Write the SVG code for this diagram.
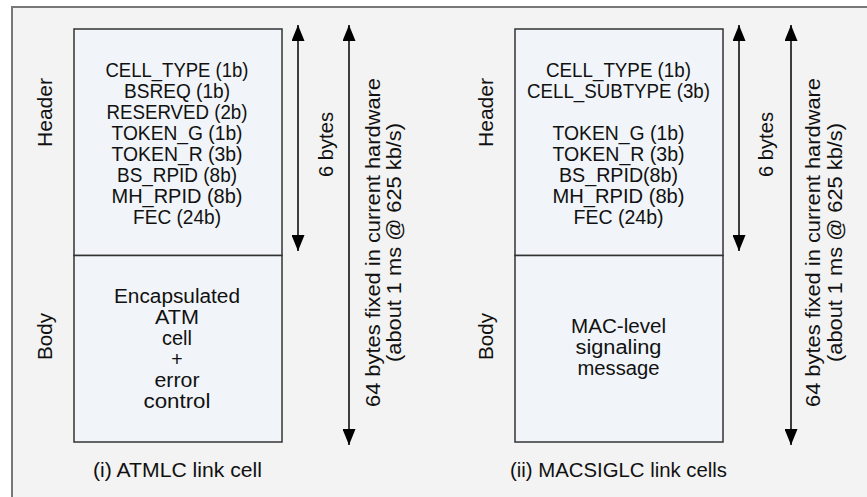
<svg xmlns="http://www.w3.org/2000/svg" width="867" height="497" viewBox="0 0 867 497">
  <style>
    .frame { fill: #f3f3f3; stroke: #777777; stroke-width: 2; }
    .cell { fill: #f1f5f9; stroke: #333333; stroke-width: 1.5; }
    .t { font-family: "Liberation Sans", Arial, sans-serif; font-size: 19.5px; fill: #111111; text-anchor: middle; }
    .dim { stroke: #000000; stroke-width: 1.5; fill: none; }
  </style>
  <defs>
    <marker id="ah" viewBox="0 0 16 13" refX="16" refY="6.5" markerWidth="16" markerHeight="13" markerUnits="userSpaceOnUse" orient="auto-start-reverse">
      <path d="M0,0 L16,6.5 L0,13 Z" fill="#000000"/>
    </marker>
  </defs>

  <!-- page frame, open to the right and bottom -->
  <rect class="frame" x="12" y="7" width="870" height="500"/>

  <!-- (i) ATMLC link cell -->
  <g id="atmlc-header">
    <rect class="cell" x="74" y="29" width="208" height="226.5"/>
    <text class="t" x="177" y="77" textLength="143" lengthAdjust="spacingAndGlyphs">CELL_TYPE (1b)</text>
    <text class="t" x="177" y="98" textLength="106" lengthAdjust="spacingAndGlyphs">BSREQ (1b)</text>
    <text class="t" x="177" y="119" textLength="141" lengthAdjust="spacingAndGlyphs">RESERVED (2b)</text>
    <text class="t" x="177" y="140" textLength="131" lengthAdjust="spacingAndGlyphs">TOKEN_G (1b)</text>
    <text class="t" x="177" y="161" textLength="131" lengthAdjust="spacingAndGlyphs">TOKEN_R (3b)</text>
    <text class="t" x="177" y="182" textLength="120" lengthAdjust="spacingAndGlyphs">BS_RPID (8b)</text>
    <text class="t" x="177" y="203" textLength="131" lengthAdjust="spacingAndGlyphs">MH_RPID (8b)</text>
    <text class="t" x="177" y="224" textLength="88" lengthAdjust="spacingAndGlyphs">FEC (24b)</text>
  </g>
  <g id="atmlc-body">
    <rect class="cell" x="74" y="255.5" width="208" height="186.5"/>
    <text class="t" x="177" y="303" textLength="126" lengthAdjust="spacingAndGlyphs">Encapsulated</text>
    <text class="t" x="177" y="324" textLength="44" lengthAdjust="spacingAndGlyphs">ATM</text>
    <text class="t" x="177" y="345" textLength="30" lengthAdjust="spacingAndGlyphs">cell</text>
    <text class="t" x="177" y="366">+</text>
    <text class="t" x="177" y="387" textLength="45" lengthAdjust="spacingAndGlyphs">error</text>
    <text class="t" x="177" y="408" textLength="67" lengthAdjust="spacingAndGlyphs">control</text>
  </g>
  <g id="atmlc-labels">
    <text class="t" transform="translate(52,112.5) rotate(-90)" textLength="69" lengthAdjust="spacingAndGlyphs">Header</text>
    <text class="t" transform="translate(52,336.5) rotate(-90)" textLength="47" lengthAdjust="spacingAndGlyphs">Body</text>
    <text class="t" transform="translate(333,144.5) rotate(-90)" textLength="65" lengthAdjust="spacingAndGlyphs">6 bytes</text>
    <text class="t" transform="translate(380,242.5) rotate(-90)" textLength="329" lengthAdjust="spacingAndGlyphs">64 bytes fixed in current hardware</text>
    <text class="t" transform="translate(401,242.5) rotate(-90)" textLength="239" lengthAdjust="spacingAndGlyphs">(about 1 ms @ 625 kb/s)</text>
    <text class="t" x="177.5" y="477" textLength="169" lengthAdjust="spacingAndGlyphs">(i) ATMLC link cell</text>
  </g>

  <!-- (ii) MACSIGLC link cells -->
  <g id="macsiglc-header">
    <rect class="cell" x="515" y="29" width="208" height="226.5"/>
    <text class="t" x="618.5" y="77" textLength="145" lengthAdjust="spacingAndGlyphs">CELL_TYPE (1b)</text>
    <text class="t" x="618.5" y="98" textLength="183" lengthAdjust="spacingAndGlyphs">CELL_SUBTYPE (3b)</text>
    <text class="t" x="618.5" y="140" textLength="132" lengthAdjust="spacingAndGlyphs">TOKEN_G (1b)</text>
    <text class="t" x="618.5" y="161" textLength="132" lengthAdjust="spacingAndGlyphs">TOKEN_R (3b)</text>
    <text class="t" x="618.5" y="182" textLength="119" lengthAdjust="spacingAndGlyphs">BS_RPID(8b)</text>
    <text class="t" x="618.5" y="203" textLength="132" lengthAdjust="spacingAndGlyphs">MH_RPID (8b)</text>
    <text class="t" x="618.5" y="224" textLength="90" lengthAdjust="spacingAndGlyphs">FEC (24b)</text>
  </g>
  <g id="macsiglc-body">
    <rect class="cell" x="515" y="255.5" width="208" height="186.5"/>
    <text class="t" x="618.5" y="333" textLength="95" lengthAdjust="spacingAndGlyphs">MAC-level</text>
    <text class="t" x="618.5" y="354" textLength="86" lengthAdjust="spacingAndGlyphs">signaling</text>
    <text class="t" x="618.5" y="375" textLength="82" lengthAdjust="spacingAndGlyphs">message</text>
  </g>
  <g id="macsiglc-labels">
    <text class="t" transform="translate(493,112.5) rotate(-90)" textLength="69" lengthAdjust="spacingAndGlyphs">Header</text>
    <text class="t" transform="translate(493,336.5) rotate(-90)" textLength="47" lengthAdjust="spacingAndGlyphs">Body</text>
    <text class="t" transform="translate(773,144.5) rotate(-90)" textLength="65" lengthAdjust="spacingAndGlyphs">6 bytes</text>
    <text class="t" transform="translate(820,242.5) rotate(-90)" textLength="329" lengthAdjust="spacingAndGlyphs">64 bytes fixed in current hardware</text>
    <text class="t" transform="translate(842,242.5) rotate(-90)" textLength="239" lengthAdjust="spacingAndGlyphs">(about 1 ms @ 625 kb/s)</text>
    <text class="t" x="618.5" y="477" textLength="217" lengthAdjust="spacingAndGlyphs">(ii) MACSIGLC link cells</text>
  </g>

  <!-- size arrows -->
  <g id="connectors">
    <line class="dim" x1="298" y1="25" x2="298" y2="251" marker-start="url(#ah)" marker-end="url(#ah)"/>
    <line class="dim" x1="349" y1="25" x2="349" y2="445" marker-start="url(#ah)" marker-end="url(#ah)"/>
    <line class="dim" x1="739" y1="25" x2="739" y2="251" marker-start="url(#ah)" marker-end="url(#ah)"/>
    <line class="dim" x1="791" y1="25" x2="791" y2="445" marker-start="url(#ah)" marker-end="url(#ah)"/>
  </g>
</svg>
